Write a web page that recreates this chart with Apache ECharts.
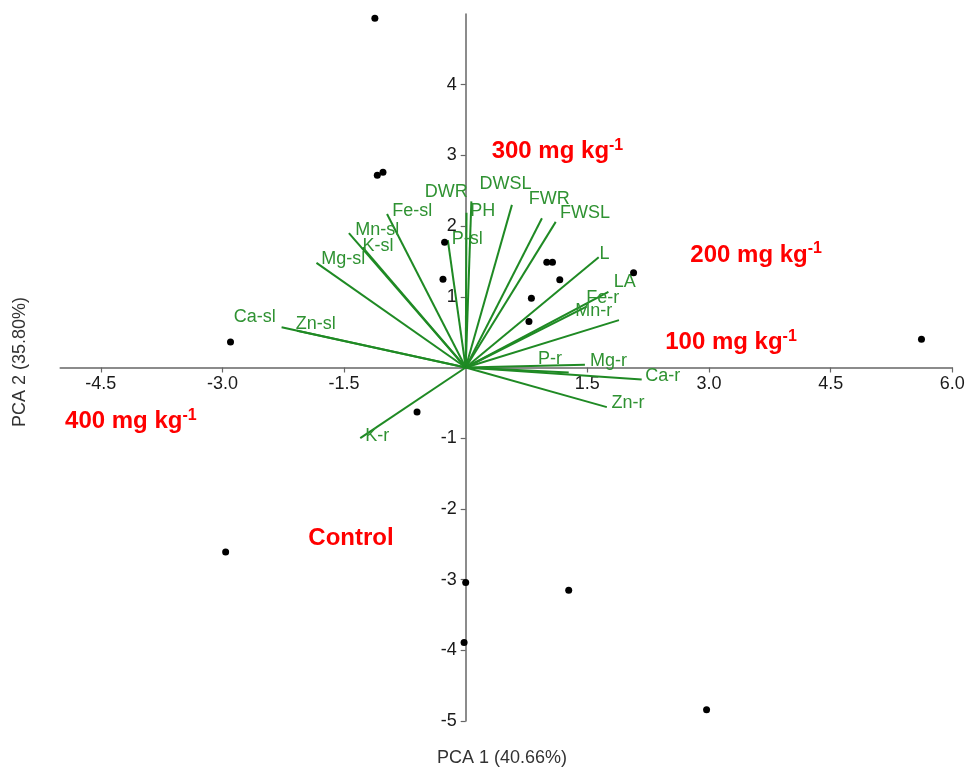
<!DOCTYPE html>
<html>
<head>
<meta charset="utf-8">
<script src="https://cdn.jsdelivr.net/npm/echarts@6/dist/echarts.min.js"></script>
<style>
html,body{margin:0;padding:0;background:#fff;}
#chart{width:966px;height:769px;}
</style>
</head>
<body>
<div id="chart"></div>
<script>
// Loading vectors (PCA 1, PCA 2)
const vectorNames = ['Ca-sl','Zn-sl','Mg-sl','Mn-sl','K-sl','Fe-sl','DWR','PH','P-sl','DWSL','FWR','FWSL','L','LA','Fe-r','Mn-r','P-r','Mg-r','Ca-r','Zn-r','K-r'];
const vectorX = [-2.27,-2.08,-1.84,-1.44,-1.27,-0.97,0.01,0.07,-0.22,0.57,0.94,1.11,1.64,1.89,1.76,1.49,1.27,1.47,2.17,1.74,-1.30];
const vectorY = [0.57,0.52,1.48,1.90,1.70,2.17,2.19,2.35,1.80,2.30,2.11,2.06,1.56,0.67,1.07,0.86,-0.07,0.04,-0.17,-0.56,-1.00];
// Where each vector's name sits (data units)
const vectorLabelX = [-2.60,-1.85,-1.51,-1.09,-1.08,-0.66,-0.24,0.21,0.02,0.49,1.03,1.47,1.71,1.96,1.69,1.58,1.04,1.76,2.43,2.00,-1.09];
const vectorLabelY = [0.71,0.62,1.54,1.95,1.72,2.21,2.48,2.21,1.82,2.60,2.38,2.19,1.61,1.21,0.98,0.80,0.12,0.09,-0.12,-0.50,-0.97];

// Sample scores
const scoreX = [-1.12,-1.09,-1.02,-0.26,-0.28,-2.90,1.00,1.07,1.16,0.81,0.78,2.07,5.62,-0.60,-2.96,0.00,1.27,-0.02,2.97];
const scoreY = [4.94,2.72,2.76,1.77,1.25,0.36,1.49,1.49,1.24,0.98,0.65,1.34,0.40,-0.63,-2.61,-3.04,-3.15,-3.89,-4.84];

// Treatment group labels
const groupMain = ['300 mg kg','200 mg kg','100 mg kg','400 mg kg','Control'];
const groupSup = ['-1','-1','-1','-1',''];
const groupX = [0.32,2.77,2.46,-4.94,-1.94];
const groupY = [3.05,1.59,0.35,-0.76,-2.41];

// Axis ticks
const xTicks = [-4.5,-3.0,-1.5,1.5,3.0,4.5,6.0];
const yTicks = [-5,-4,-3,-2,-1,1,2,3,4];
const xTitle = 'PCA 1 (40.66%)';
const yTitle = 'PCA 2 (35.80%)';

const lineGreen = '#1f8a24';
const textGreen = '#2f9232';
const axisGray = '#666';
const FONT = 'Liberation Sans, Arial, sans-serif';

const chart = echarts.init(document.getElementById('chart'));

const vectorLines = vectorNames.map((n,i)=>({name:n, coords:[[0,0],[vectorX[i],vectorY[i]]]}));
const vectorLabelData = vectorNames.map((n,i)=>({name:n, value:[vectorLabelX[i],vectorLabelY[i]]}));
const scoreData = scoreX.map((x,i)=>[x,scoreY[i]]);
const groupData = groupMain.map((n,i)=>({name:n, sup:groupSup[i], value:[groupX[i],groupY[i]]}));
const xTickData = xTicks.map(v=>[v,0]);
const yTickData = yTicks.map(v=>[0,v]);

chart.setOption({
  animation:false,
  backgroundColor:'#fff',
  grid:{left:60.2, right:13.7, top:14, bottom:48, containLabel:false},
  xAxis:{
    type:'value', min:-5, max:6,
    axisLine:{onZero:true, lineStyle:{color:axisGray, width:1.5}},
    axisTick:{show:true, inside:false, length:5, customValues:xTicks, lineStyle:{color:axisGray, width:1.2}},
    axisLabel:{show:false},
    splitLine:{show:false}
  },
  yAxis:{
    type:'value', min:-5, max:5,
    axisLine:{onZero:true, lineStyle:{color:axisGray, width:1.5}},
    axisTick:{show:true, inside:false, length:5, customValues:yTicks, lineStyle:{color:axisGray, width:1.2}},
    axisLabel:{show:false},
    splitLine:{show:false}
  },
  series:[
    {
      type:'lines', coordinateSystem:'cartesian2d', polyline:false,
      lineStyle:{color:lineGreen, width:2, opacity:1},
      data:vectorLines, z:2, silent:true
    },
    {
      type:'scatter', symbolSize:0, data:vectorLabelData, z:3, silent:true,
      itemStyle:{opacity:1},
      label:{show:true, position:'inside', formatter:p=>p.name, color:textGreen, fontSize:18, fontFamily:FONT}
    },
    {
      type:'scatter', symbol:'circle', symbolSize:7, data:scoreData, z:4,
      itemStyle:{color:'#000', opacity:1}
    },
    {
      type:'scatter', symbolSize:0, data:xTickData, z:1, silent:true, itemStyle:{opacity:1},
      label:{show:true, position:'bottom', distance:8, formatter:p=>p.value[0].toFixed(1), color:'#1a1a1a', fontSize:18, fontFamily:FONT}
    },
    {
      type:'scatter', symbolSize:0, data:yTickData, z:1, silent:true, itemStyle:{opacity:1},
      label:{show:true, position:'left', distance:9, formatter:p=>String(p.value[1]), color:'#1a1a1a', fontSize:18, fontFamily:FONT}
    },
    {
      type:'scatter', symbolSize:0, data:groupData, z:5, silent:true, itemStyle:{opacity:1},
      label:{show:true, position:'right', distance:0,
        formatter:p=>'{m|'+p.data.name+'}'+(p.data.sup?'{s|'+p.data.sup+'}':''),
        rich:{
          m:{color:'#ff0000', fontSize:24, fontWeight:'bold', fontFamily:FONT},
          s:{color:'#ff0000', fontSize:16, fontWeight:'bold', fontFamily:FONT, padding:[0,0,12,0]}
        }
      }
    }
  ],
  graphic:[
    {type:'text', left:437, top:749, style:{text:xTitle, fontSize:18, fill:'#333', fontFamily:FONT}},
    {type:'text', x:11, y:362, rotation:Math.PI/2, style:{text:yTitle, fontSize:18, fill:'#333', align:'center', verticalAlign:'top', fontFamily:FONT}}
  ]
});
</script>
</body>
</html>
